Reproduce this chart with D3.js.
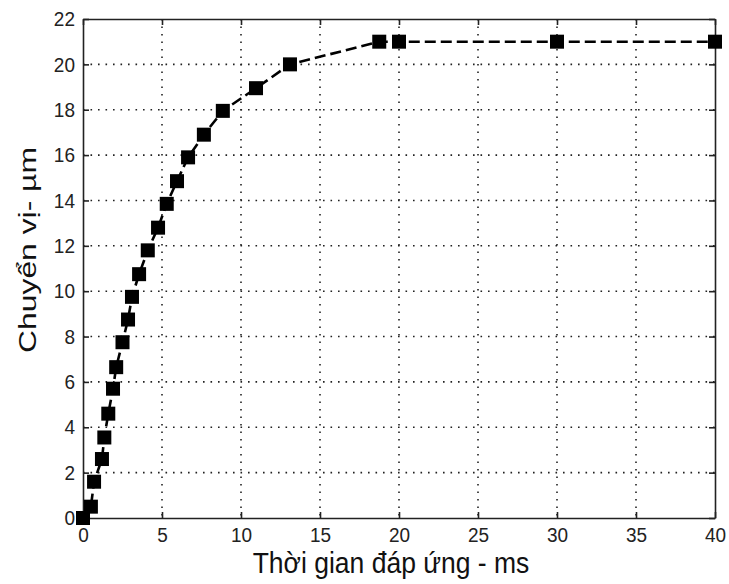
<!DOCTYPE html>
<html>
<head>
<meta charset="utf-8">
<script src="https://cdn.jsdelivr.net/npm/d3@7"></script>
<style>
  html, body { margin: 0; padding: 0; background: #fff; }
  svg { display: block; }
</style>
</head>
<body>
<svg id="chart" width="729" height="584"></svg>
<script>
const timeMs = [0, 0.5, 0.7, 1.2, 1.35, 1.6, 1.9, 2.1, 2.5, 2.85, 3.1, 3.55, 4.1, 4.75, 5.3, 5.95, 6.65, 7.65, 8.85, 10.95, 13.1, 18.75, 20, 30, 40];
const displacement = [0, 0.5, 1.6, 2.6, 3.55, 4.6, 5.7, 6.65, 7.75, 8.75, 9.75, 10.75, 11.8, 12.8, 13.85, 14.85, 15.9, 16.9, 17.95, 18.95, 20.0, 21.0, 21.0, 21.0, 21.0];
const xTicks = [0, 5, 10, 15, 20, 25, 30, 35, 40];
const yTicks = [0, 2, 4, 6, 8, 10, 12, 14, 16, 18, 20, 22];
const xLabel = "Thời gian đáp ứng - ms";
const yLabel = "Chuyển vị- µm";

const W = 729, H = 584;
const m = { left: 83, right: 14, top: 19, bottom: 66 };
const iw = W - m.left - m.right, ih = H - m.top - m.bottom;
const svg = d3.select("#chart");
const g = svg.append("g").attr("transform", `translate(${m.left},${m.top})`);

const x = d3.scaleLinear().domain([0, 40]).range([0, iw]);
const y = d3.scaleLinear().domain([0, 22]).range([ih, 0]);

const font = "'Liberation Sans', Arial, sans-serif";

// grid
g.append("g").selectAll("line").data(xTicks.slice(1, -1)).join("line")
  .attr("x1", d => x(d)).attr("x2", d => x(d)).attr("y1", 0).attr("y2", ih)
  .attr("stroke", "#222").attr("stroke-width", 1.6).attr("stroke-dasharray", "1.6,5.9");
g.append("g").selectAll("line").data(yTicks.slice(1, -1)).join("line")
  .attr("y1", d => y(d)).attr("y2", d => y(d)).attr("x1", 0).attr("x2", iw)
  .attr("stroke", "#222").attr("stroke-width", 1.6).attr("stroke-dasharray", "1.6,5.9");

// axes
const xb = g.append("g").attr("transform", `translate(0,${ih})`)
  .call(d3.axisBottom(x).tickValues(xTicks).tickSizeInner(-6).tickSizeOuter(0).tickPadding(8));
const xt = g.append("g")
  .call(d3.axisTop(x).tickValues(xTicks).tickSizeInner(-6).tickSizeOuter(0).tickFormat(""));
const yl = g.append("g")
  .call(d3.axisLeft(y).tickValues(yTicks).tickSizeInner(-6).tickSizeOuter(0).tickPadding(8));
const yr = g.append("g").attr("transform", `translate(${iw},0)`)
  .call(d3.axisRight(y).tickValues(yTicks).tickSizeInner(-6).tickSizeOuter(0).tickFormat(""));
[xb, xt, yl, yr].forEach(a => {
  a.select(".domain").attr("stroke", "#222").attr("stroke-width", 1.6);
  a.selectAll(".tick line").attr("stroke", "#222").attr("stroke-width", 1.6);
  a.selectAll("text").attr("font-family", font).attr("font-size", 19).attr("fill", "#222")
    .attr("transform", "scale(1,1.1)");
});
xb.selectAll("text").attr("dy", "0.72em");

// line
const line = d3.line().x((d, i) => x(timeMs[i])).y(d => y(d));
g.append("path").datum(displacement).attr("d", line)
  .attr("fill", "none").attr("stroke", "#000").attr("stroke-width", 2.6)
  .attr("stroke-dasharray", "11,5");

// markers
const s = 14;
g.append("g").selectAll("rect").data(displacement).join("rect")
  .attr("x", (d, i) => x(timeMs[i]) - s / 2).attr("y", d => y(d) - s / 2)
  .attr("width", s).attr("height", s).attr("fill", "#000");

// axis titles
svg.append("text").attr("transform", "translate(391,573) scale(1,1.08)").attr("text-anchor", "middle")
  .attr("font-family", font).attr("font-size", 26.5).attr("fill", "#111")
  .text(xLabel);
svg.append("text").attr("transform", "translate(36,250) rotate(-90) scale(1.3,1)").attr("text-anchor", "middle")
  .attr("font-family", font).attr("font-size", 24.5).attr("fill", "#111")
  .text(yLabel);
</script>
</body>
</html>
